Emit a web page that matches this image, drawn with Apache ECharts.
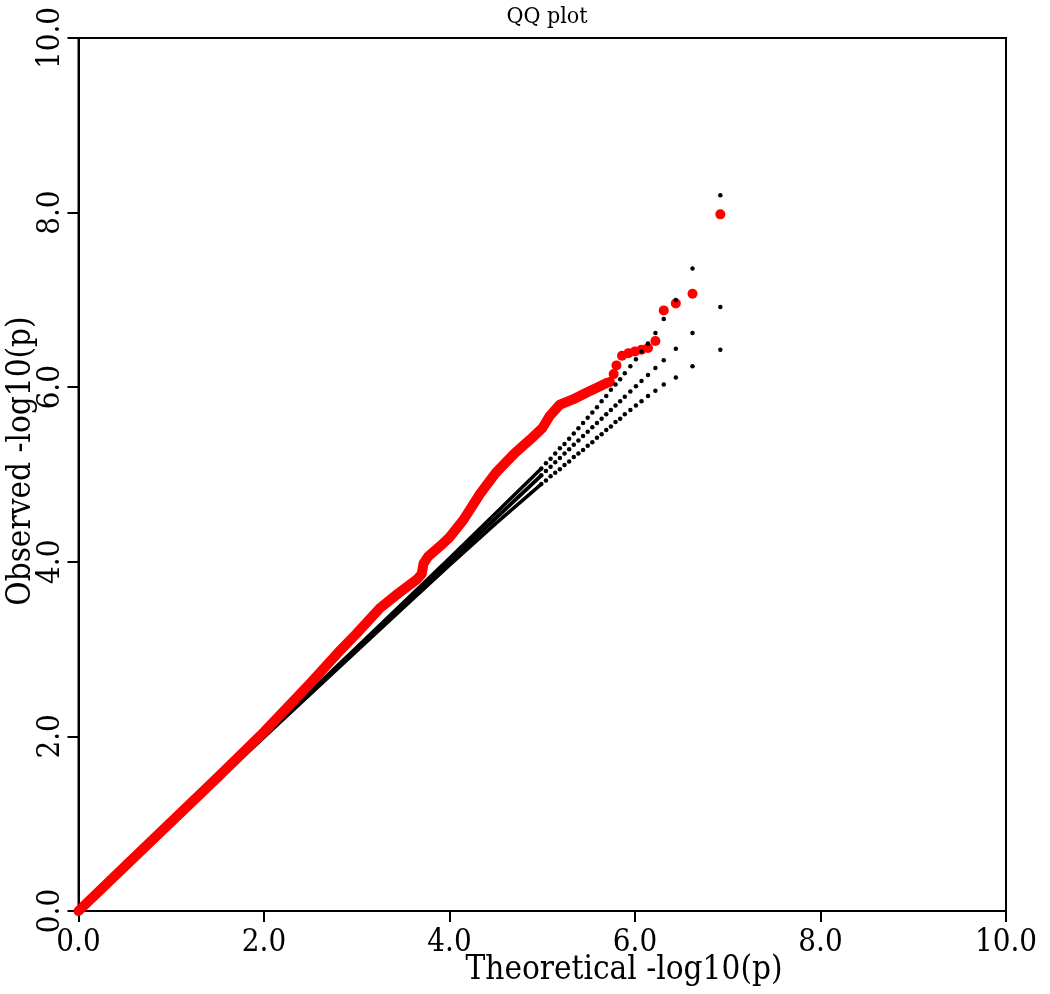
<!DOCTYPE html>
<html>
<head>
<meta charset="utf-8">
<style>html,body{margin:0;padding:0;background:#fff;}#chart{width:1050px;height:994px;}</style>
<script src="https://cdn.jsdelivr.net/npm/echarts@6/dist/echarts.min.js"></script>
</head>
<body>
<div id="chart"></div>
<script>
// Tick labels
const tickValues = [0, 2, 4, 6, 8, 10];

// Black reference lines (dense part, drawn as lines)
const lineX        = [0, 1, 2, 3, 3.5, 4, 4.5, 4.99];
const lineExpected = [0, 1, 2, 3, 3.5, 4, 4.5, 4.99];
const lineUpper    = [0, 1.0, 2.01, 3.02, 3.53, 4.04, 4.56, 5.07];
const lineLower    = [0, 1.0, 1.99, 2.98, 3.47, 3.96, 4.44, 4.89];

// Black reference dots (sparse tail)
const tailX        = [6.92, 6.62, 6.44, 6.31, 6.22, 6.14, 6.07, 6.01, 5.95, 5.89, 5.84, 5.79, 5.74, 5.69, 5.64, 5.59, 5.54, 5.49, 5.44, 5.39, 5.34, 5.29, 5.24, 5.19, 5.14, 5.09, 5.04, 4.99];
const tailExpected = [6.92, 6.62, 6.44, 6.31, 6.22, 6.14, 6.07, 6.01, 5.95, 5.89, 5.84, 5.79, 5.74, 5.69, 5.64, 5.59, 5.54, 5.49, 5.44, 5.39, 5.34, 5.29, 5.24, 5.19, 5.14, 5.09, 5.04, 4.99];
const tailUpper    = [8.20, 7.36, 7.00, 6.78, 6.62, 6.50, 6.41, 6.32, 6.24, 6.16, 6.09, 6.03, 5.97, 5.90, 5.84, 5.77, 5.71, 5.65, 5.59, 5.53, 5.47, 5.41, 5.35, 5.30, 5.24, 5.18, 5.13, 5.07];
const tailLower    = [6.43, 6.24, 6.11, 6.03, 5.96, 5.90, 5.84, 5.79, 5.74, 5.69, 5.64, 5.60, 5.55, 5.51, 5.46, 5.42, 5.37, 5.33, 5.28, 5.24, 5.20, 5.15, 5.11, 5.06, 5.02, 4.98, 4.93, 4.89];

// Observed (red) - dense part
const obsLineX = [0, 0.5, 1.0, 1.5, 2.0, 2.5, 2.8, 3.0, 3.25, 3.45, 3.65, 3.70, 3.72, 3.77, 3.90, 4.00, 4.15, 4.33, 4.50, 4.70, 4.87, 5.00, 5.08, 5.19, 5.33, 5.48, 5.60, 5.70];
const obsLineY = [0, 0.51, 1.02, 1.53, 2.05, 2.61, 2.96, 3.18, 3.47, 3.64, 3.80, 3.86, 3.98, 4.06, 4.18, 4.28, 4.48, 4.78, 5.02, 5.24, 5.40, 5.53, 5.67, 5.80, 5.86, 5.94, 6.00, 6.05];
// Observed (red) - sparse tail
const obsTailX = [5.73, 5.77, 5.80, 5.86, 5.93, 6.00, 6.07, 6.14, 6.22, 6.31, 6.44, 6.62, 6.92];
const obsTailY = [6.06, 6.15, 6.25, 6.36, 6.39, 6.41, 6.43, 6.45, 6.53, 6.88, 6.96, 7.07, 7.98];

const FONT = '"DejaVu Serif Condensed", "DejaVu Serif", serif';
const zip = (a, b) => a.map((v, i) => [v, b[i]]);

const chart = echarts.init(document.getElementById('chart'));
const axisCommon = {
  type: 'value', min: 0, max: 10, interval: 2,
  axisLine: { show: true, lineStyle: { color: '#000', width: 2 } },
  axisTick: { show: true, length: 11, inside: false, lineStyle: { color: '#000', width: 2 } },
  splitLine: { show: false },
  axisLabel: { color: '#000', fontFamily: FONT, fontSize: 31,
    formatter: v => tickValues.includes(v) ? v.toFixed(1) : '' }
};
chart.setOption({
  animation: false,
  backgroundColor: '#fff',
  title: { text: 'QQ plot', left: 542, top: 1, textAlign: 'center',
    textStyle: { fontFamily: FONT, fontSize: 23, fontWeight: 'normal', color: '#000' } },
  grid: { left: 78.5, top: 38, width: 927.5, height: 873, show: true, borderColor: '#000', borderWidth: 2, backgroundColor: 'transparent' },
  xAxis: Object.assign({}, axisCommon, { axisLabel: Object.assign({}, axisCommon.axisLabel, { margin: 16 }) }),
  yAxis: Object.assign({}, axisCommon, { axisLabel: Object.assign({}, axisCommon.axisLabel, { margin: 12, rotate: 90 }) }),
  graphic: [
    { type: 'text', x: 624, y: 970, style: { text: 'Theoretical -log10(p)', fontFamily: FONT, fontSize: 33, fill: '#000', align: 'center', verticalAlign: 'middle' } },
    { type: 'text', x: 21, y: 461, rotation: Math.PI / 2, style: { text: 'Observed -log10(p)', fontFamily: FONT, fontSize: 33, fill: '#000', align: 'center', verticalAlign: 'middle' } }
  ],
  series: [
    { type: 'line', data: zip(lineX, lineUpper), showSymbol: false, symbol: 'none', lineStyle: { color: '#000', width: 3.5 }, z: 2 },
    { type: 'line', data: zip(lineX, lineLower), showSymbol: false, symbol: 'none', lineStyle: { color: '#000', width: 3.5 }, z: 2 },
    { type: 'line', data: zip(lineX, lineExpected), showSymbol: false, symbol: 'none', lineStyle: { color: '#000', width: 4 }, z: 2 },
    { type: 'line', data: zip(obsLineX, obsLineY), showSymbol: false, symbol: 'none', lineStyle: { color: '#ff0000', width: 10, cap: 'round', join: 'round' }, z: 3 },
    { type: 'scatter', data: zip(obsTailX, obsTailY), symbolSize: 10, itemStyle: { color: '#ff0000', opacity: 1 }, z: 3 },
    { type: 'scatter', data: zip(tailX, tailUpper), symbolSize: 4.5, itemStyle: { color: '#000', opacity: 1 }, z: 4 },
    { type: 'scatter', data: zip(tailX, tailExpected), symbolSize: 4.5, itemStyle: { color: '#000', opacity: 1 }, z: 4 },
    { type: 'scatter', data: zip(tailX, tailLower), symbolSize: 4.5, itemStyle: { color: '#000', opacity: 1 }, z: 4 }
  ]
});
</script>
</body>
</html>
